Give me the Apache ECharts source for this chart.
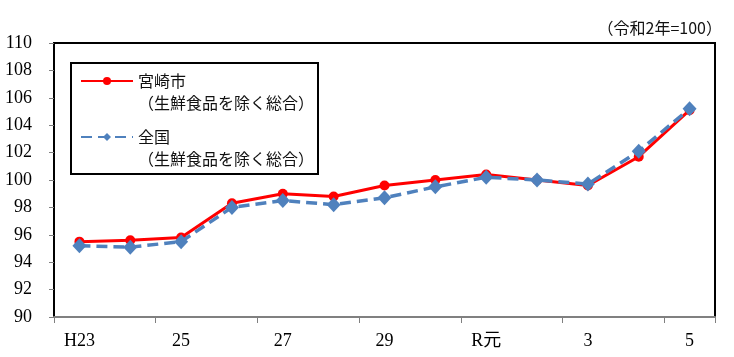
<!DOCTYPE html>
<html>
<head>
<meta charset="utf-8">
<script src="https://cdn.jsdelivr.net/npm/echarts@6/dist/echarts.min.js"></script>
<style>html,body{margin:0;padding:0;background:#fff;}#c{width:734px;height:357px;}</style>
</head>
<body>
<div id="c"></div>
<script>
const categories = ['H23', '24', '25', '26', '27', '28', '29', '30', 'R元', '2', '3', '4', '5'];
const miyazaki = [95.5, 95.6, 95.8, 98.3, 99.0, 98.8, 99.6, 100.0, 100.4, 100.0, 99.6, 101.7, 105.1];
const zenkoku = [95.2, 95.1, 95.5, 98.0, 98.5, 98.2, 98.7, 99.5, 100.2, 100.0, 99.7, 102.1, 105.2];
const seriesNames = ['宮崎市', '全国'];
const legendSub = '（生鮮食品を除く総合）';
const unitText = '（令和2年=100）';
const yMin = 90, yMax = 110, yStep = 2;

const serif = "'Liberation Serif', 'Noto Sans CJK JP', serif";
const cjk = "'Noto Sans CJK JP', sans-serif";

const chart = echarts.init(document.getElementById('c'));
chart.setOption({
  animation: false,
  backgroundColor: '#fff',
  title: {
    text: unitText,
    right: 7, top: 15,
    textStyle: { fontFamily: cjk, fontSize: 16, fontWeight: 'normal', color: '#111' }
  },
  grid: {
    left: 54, right: 19, top: 43, bottom: 40,
    show: true, borderColor: '#000', borderWidth: 2, backgroundColor: 'transparent'
  },
  graphic: [{
    type: 'rect', left: 70, top: 62, z: 5,
    shape: { width: 247, height: 111 },
    style: { fill: '#fff', stroke: '#000', lineWidth: 2 }
  }],
  legend: {
    orient: 'vertical',
    left: 80, top: 48,
    padding: 0,
    itemGap: -10,
    itemWidth: 52, itemHeight: 10,
    z: 10,
    data: seriesNames,
    formatter: function (n) { return ' \n' + n + '\n' + legendSub; },
    textStyle: { fontFamily: cjk, fontSize: 16, lineHeight: 22, color: '#111' }
  },
  xAxis: {
    type: 'category',
    data: categories,
    boundaryGap: true,
    axisLine: { show: true, lineStyle: { color: '#808080', width: 2 } },
    axisTick: { show: true, length: 6, lineStyle: { color: '#808080', width: 1 } },
    axisLabel: { interval: 1, margin: 15, fontFamily: serif, fontSize: 18, color: '#000' },
    splitLine: { show: false }
  },
  yAxis: {
    type: 'value',
    min: yMin, max: yMax, interval: yStep,
    axisLine: { show: true, lineStyle: { color: '#000', width: 2 } },
    axisTick: { show: true, length: 5, lineStyle: { color: '#808080', width: 1 } },
    axisLabel: { margin: 22, fontFamily: serif, fontSize: 18, color: '#000' },
    splitLine: { show: false }
  },
  series: [
    {
      name: seriesNames[0],
      type: 'line',
      data: miyazaki,
      symbol: 'circle',
      symbolSize: 10,
      lineStyle: { color: '#FF0000', width: 3 },
      itemStyle: { color: '#FF0000' },
      z: 3
    },
    {
      name: seriesNames[1],
      type: 'line',
      data: zenkoku,
      symbol: 'diamond',
      symbolSize: [14, 15],
      lineStyle: { color: '#4F81BD', width: 3.5, type: [11, 6] },
      itemStyle: { color: '#4F81BD' },
      z: 4
    }
  ]
});
</script>
</body>
</html>
